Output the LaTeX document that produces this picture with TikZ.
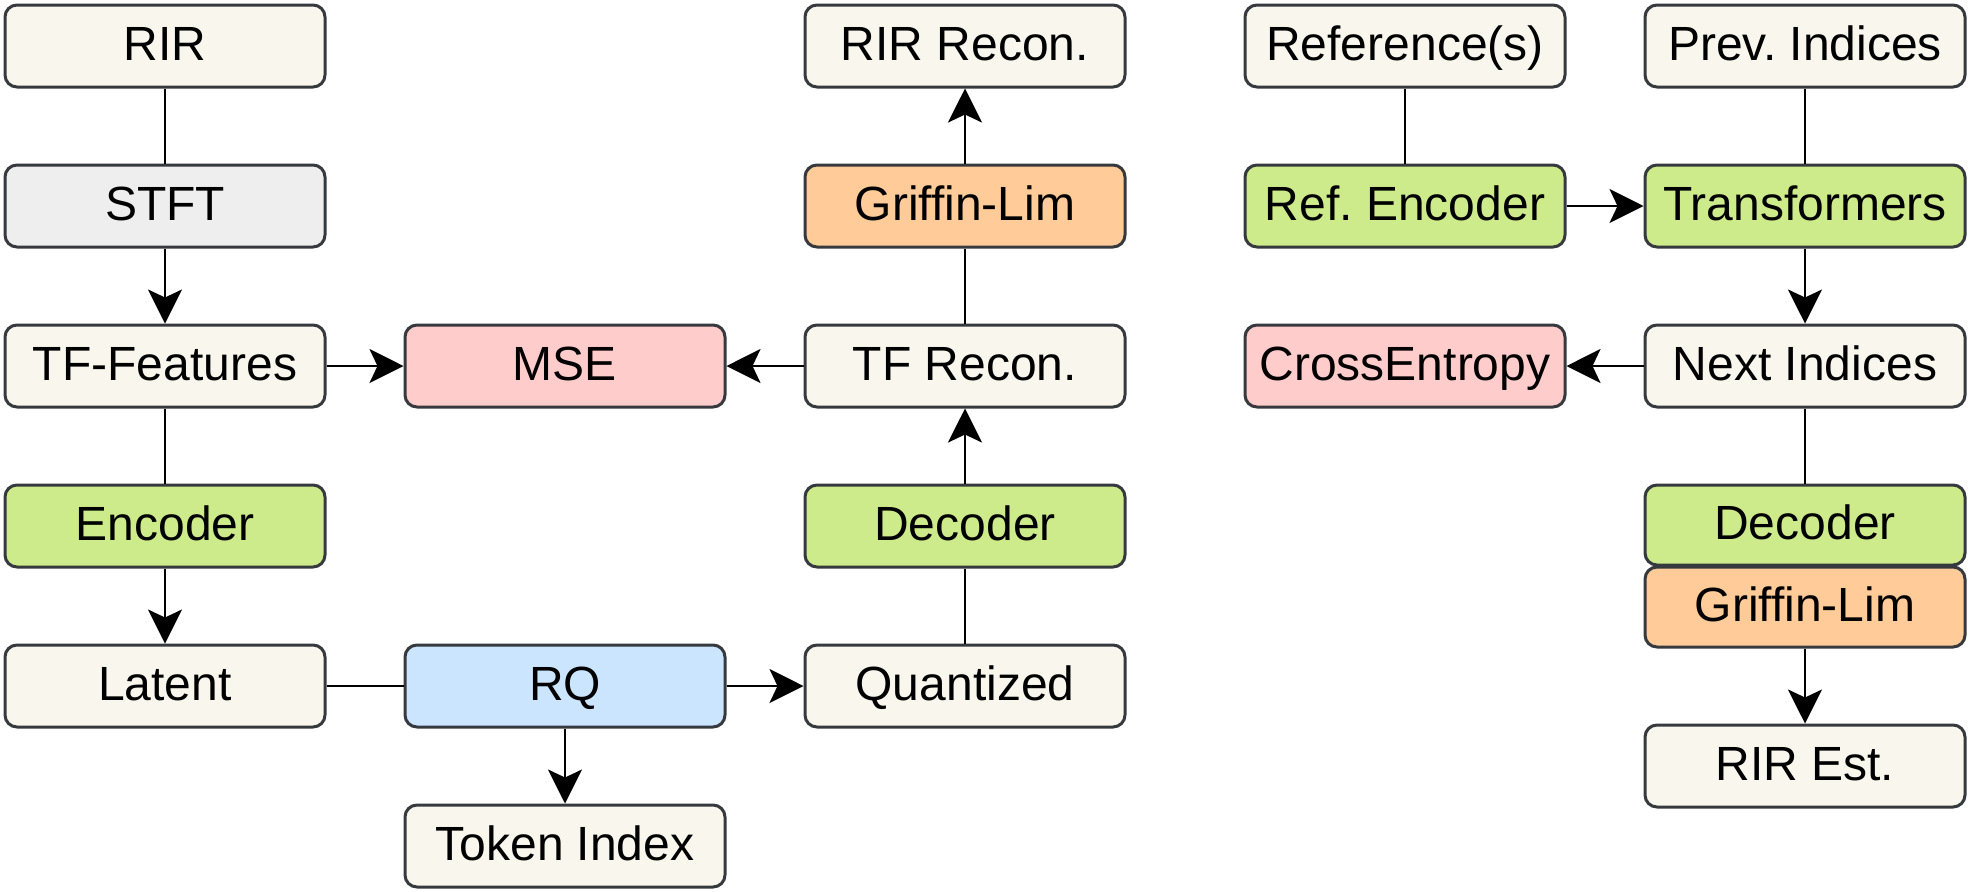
\documentclass[tikz,border=0pt]{standalone}
\usepackage{fontspec}
\setmainfont{Liberation Sans}
\frenchspacing
\usetikzlibrary{arrows.meta}
\definecolor{strokec}{HTML}{36393D}
\definecolor{cream}{HTML}{F9F7ED}
\definecolor{grayf}{HTML}{EEEEEE}
\definecolor{greenf}{HTML}{CDEB8B}
\definecolor{pinkf}{HTML}{FFCCCC}
\definecolor{orangef}{HTML}{FFCC99}
\definecolor{bluef}{HTML}{CCE5FF}
\tikzset{
  box/.style={draw=strokec, line width=1.5pt, rounded corners=6pt, minimum width=160pt, minimum height=41pt, inner sep=0pt, text height=19pt, text depth=4.3pt, font=\fontsize{24}{28}\selectfont, text=black},
  cr/.style={box, fill=cream},
  gr/.style={box, fill=grayf},
  gn/.style={box, fill=greenf},
  pk/.style={box, fill=pinkf},
  og/.style={box, fill=orangef},
  bl/.style={box, fill=bluef},
  ln/.style={line width=1.25pt, draw=black},
  ar/.style={ln, -{Stealth[length=17pt, width=17pt, inset=4pt]}},
}
\begin{document}
\begin{tikzpicture}[x=0.5pt, y=-0.5pt]
\useasboundingbox (0,0) rectangle (1970,891);
% column 1
\node[cr] (rir) at (165,46) {RIR};
\node[gr] (stft) at (165,206) {STFT};
\node[cr] (tff) at (165,366) {TF-Features};
\node[gn] (enc) at (165,526) {Encoder};
\node[cr] (lat) at (165,686) {Latent};
% column 2
\node[pk] (mse) at (565,366) {MSE};
\node[bl] (rq) at (565,686) {RQ};
\node[cr] (tok) at (565,846) {Token Index};
% column 3
\node[cr] (rirr) at (965,46) {RIR Recon.};
\node[og] (gl) at (965,206) {Griffin-Lim};
\node[cr] (tfr) at (965,366) {TF Recon.};
\node[gn] (dec) at (965,526) {Decoder};
\node[cr] (qua) at (965,686) {Quantized};
% column 4
\node[cr] (ref) at (1405,46) {Reference(s)};
\node[gn] (renc) at (1405,206) {Ref. Encoder};
\node[pk] (ce) at (1405,366) {CrossEntropy};
% column 5
\node[cr] (prev) at (1805,46) {Prev. Indices};
\node[gn] (trans) at (1805,206) {Transformers};
\node[cr] (next) at (1805,366) {Next Indices};
\node[gn, minimum height=40pt] (dec2) at (1805,525) {Decoder};
\node[og, minimum height=40pt] (gl2) at (1805,607) {Griffin-Lim};
\node[cr] (est) at (1805,766) {RIR Est.};
% connectors
\draw[ln] (rir) -- (stft);
\draw[ar] (stft) -- (tff);
\draw[ar] (tff) -- (mse);
\draw[ln] (tff) -- (enc);
\draw[ar] (enc) -- (lat);
\draw[ln] (lat) -- (rq);
\draw[ar] (rq) -- (qua);
\draw[ar] (rq) -- (tok);
\draw[ln] (qua) -- (dec);
\draw[ar] (dec) -- (tfr);
\draw[ar] (tfr) -- (mse);
\draw[ln] (tfr) -- (gl);
\draw[ar] (gl) -- (rirr);
\draw[ln] (ref) -- (renc);
\draw[ar] (renc) -- (trans);
\draw[ln] (prev) -- (trans);
\draw[ar] (trans) -- (next);
\draw[ar] (next) -- (ce);
\draw[ln] (next) -- (dec2);
\draw[ar] (gl2) -- (est);
\end{tikzpicture}
\end{document}
